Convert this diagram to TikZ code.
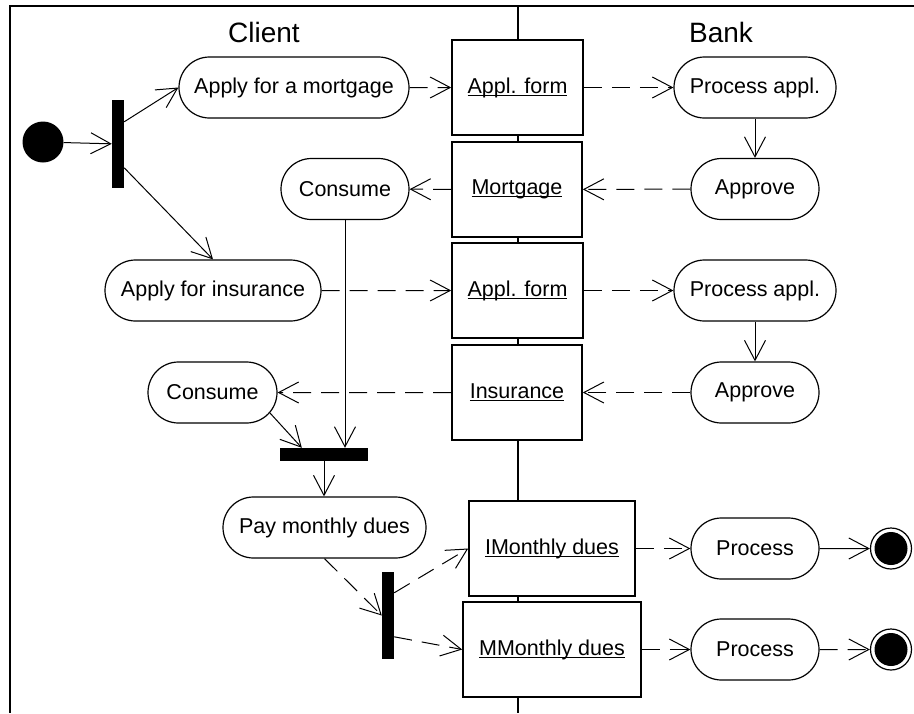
\documentclass[tikz,border=0pt]{standalone}
\usepackage{fontspec}
\setmainfont{Liberation Sans}
\usetikzlibrary{arrows.meta,shapes.misc,calc}
% object name, underlined just below the baseline
\newcommand{\objname}[1]{\setbox0\hbox{#1}\rlap{\rule[-2.6pt]{\wd0}{1pt}}\box0}
\begin{document}
\begin{tikzpicture}[x=1pt,y=-1pt,
  txt/.style={font=\fontsize{21.5}{26}\selectfont},
  act/.style={txt,rounded rectangle,draw,line width=1.2pt,fill=white,minimum height=61pt,inner sep=0pt},
  obj/.style={txt,rectangle,draw,line width=1.6pt,fill=white,minimum height=95pt,inner sep=0pt},
  bar/.style={rectangle,fill=black,inner sep=0pt},
  lane/.style={font=\fontsize{28}{30}\selectfont},
  tip/.style={-{Straight Barb[length=20pt,width=21pt,line width=1pt]}},
  flow/.style={tip,line width=1pt},
  dataflow/.style={tip,line width=1pt,dash pattern=on 18pt off 10pt}]
\useasboundingbox (0,0) rectangle (914,713);
% swimlane frame and divider
\draw[line width=2pt] (914,6) -- (10,6) -- (10,713);
\draw[line width=2pt] (518,6) -- (518,713);
\node[lane] (client) at (264,32) {Client};
\node[lane] (bank) at (721,32) {Bank};

% start and forks/joins
\node[circle,fill=black,minimum size=41pt,inner sep=0pt] (start) at (43,142) {};
\node[bar,minimum width=12pt,minimum height=88pt] (bar1) at (118,144) {};
\node[bar,minimum width=88pt,minimum height=13pt] (join) at (324,454.5) {};
\node[bar,minimum width=12pt,minimum height=87pt] (bar2) at (388,615.5) {};

% client actions
\node[act,minimum width=230pt] (applyM) at (294,87.5) {Apply for a mortgage};
\node[act,minimum width=128pt] (consume1) at (345,189) {Consume};
\node[act,minimum width=216pt] (applyI) at (213,290.5) {Apply for insurance};
\node[act,minimum width=129pt] (consume2) at (212.5,392.5) {Consume};
\node[act,minimum width=203pt] (pay) at (324.5,527.5) {Pay monthly dues};

% objects on the lane border
\node[obj,minimum width=131pt] (form1) at (517.5,87.5) {\objname{Appl. form}};
\node[obj,minimum width=130pt] (mort) at (517,189.5) {\objname{Mortgage}};
\node[obj,minimum width=131pt] (form2) at (517.5,290.5) {\objname{Appl. form}};
\node[obj,minimum width=130pt] (ins) at (517,392.5) {\objname{Insurance}};
\node[obj,minimum width=166pt] (imon) at (552,548.5) {\objname{IMonthly dues}};
\node[obj,minimum width=178pt] (mmon) at (552,649.5) {\objname{MMonthly dues}};

% bank actions
\node[act,minimum width=162pt] (proc1) at (755,87.5) {Process appl.};
\node[act,minimum width=128pt] (appr1) at (755,189) {Approve};
\node[act,minimum width=162pt] (proc2) at (755,290.5) {Process appl.};
\node[act,minimum width=128pt] (appr2) at (755,392.5) {Approve};
\node[act,minimum width=128pt] (procI) at (755,548.5) {Process};
\node[act,minimum width=128pt] (procM) at (755,649.5) {Process};

% final states
\node[circle,draw,line width=1.2pt,minimum size=41pt,inner sep=0pt] (final1) at (891,548.5) {};
\fill (final1.center) circle (16.5pt);
\node[circle,draw,line width=1.2pt,minimum size=41pt,inner sep=0pt] (final2) at (891,649.5) {};
\fill (final2.center) circle (16.5pt);

% control flow
\draw[flow] (start) -- (bar1);
\draw[flow] ($(bar1.north east)+(0,22)$) -- (applyM.west);
\draw[flow] ($(bar1.north east)+(0,68)$) -- (applyI.north);
\draw[flow] (consume1.south) -- (consume1.south |- join.north);
\draw[flow] ([shift={(57.5,20.5)}]consume2.center) -- ($(join.north west)+(22,0)$);
\draw[flow] (join.south) -- (join.south |- pay.north);
\draw[flow] (proc1.south) -- (appr1.north);
\draw[flow] (proc2.south) -- (appr2.north);
\draw[flow] (procI) -- (final1);

% object flow
\draw[dataflow] (applyM) -- (form1);
\draw[dataflow] (form1) -- (proc1);
\draw[dataflow] (appr1) -- (mort);
\draw[dataflow] (mort) -- (consume1);
\draw[dataflow] (applyI) -- (form2);
\draw[dataflow] (form2) -- (proc2);
\draw[dataflow] (appr2) -- (ins);
\draw[dataflow] (ins) -- (consume2);
\draw[dataflow] (pay.south) -- (bar2.west);
\draw[dataflow] ($(bar2.north east)+(0,21)$) -- (imon.west);
\draw[dataflow] ($(bar2.north east)+(0,65)$) -- (mmon.west);
\draw[dataflow] (imon) -- (procI);
\draw[dataflow] (mmon) -- (procM);
\draw[dataflow] (procM) -- (final2);
\end{tikzpicture}
\end{document}
